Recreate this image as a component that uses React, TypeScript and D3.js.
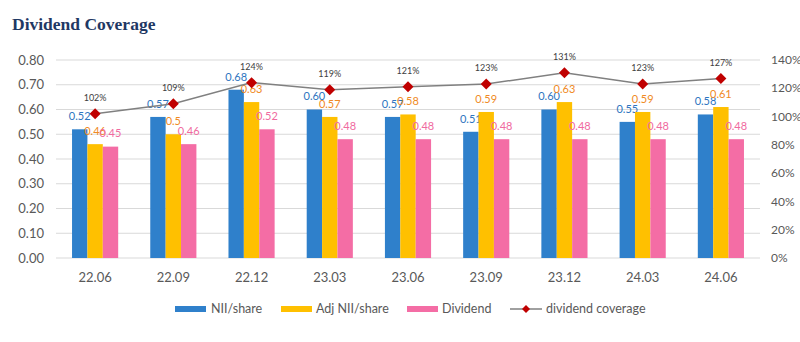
import React from "react";
import * as d3 from "d3";

const categories = ["22.06", "22.09", "22.12", "23.03", "23.06", "23.09", "23.12", "24.03", "24.06"];
const niiShare = [0.52, 0.57, 0.68, 0.6, 0.57, 0.51, 0.6, 0.55, 0.58];
const adjNiiShare = [0.46, 0.5, 0.63, 0.57, 0.58, 0.59, 0.63, 0.59, 0.61];
const dividend = [0.45, 0.46, 0.52, 0.48, 0.48, 0.48, 0.48, 0.48, 0.48];
const coverage = [102, 109, 124, 119, 121, 123, 131, 123, 127];
const niiLabels = ["0.52", "0.57", "0.68", "0.60", "0.57", "0.51", "0.60", "0.55", "0.58"];
const adjLabels = ["0.46", "0.5", "0.63", "0.57", "0.58", "0.59", "0.63", "0.59", "0.61"];
const divLabels = ["0.45", "0.46", "0.52", "0.48", "0.48", "0.48", "0.48", "0.48", "0.48"];
const leftTicks = [0, 0.1, 0.2, 0.3, 0.4, 0.5, 0.6, 0.7, 0.8];
const rightTicks = [0, 20, 40, 60, 80, 100, 120, 140];

const W = 800, H = 342;
const L = 56, R = 760, T = 60, B = 258;
const FONT = "Lato, 'Noto Sans', sans-serif";

const seriesDefs = [
  { name: "NII/share", values: niiShare, labels: niiLabels, color: "#2F80CB", labelColor: "#2E75C0" },
  { name: "Adj NII/share", values: adjNiiShare, labels: adjLabels, color: "#FFC000", labelColor: "#F08A24" },
  { name: "Dividend", values: dividend, labels: divLabels, color: "#F46DA5", labelColor: "#F06AA0" },
];

export default function App() {
  const x = d3.scaleBand<string>().domain(categories).range([L, R]).paddingInner(0.41).paddingOuter(0.205);
  const xs = d3.scaleBand<number>().domain([0, 1, 2]).range([0, x.bandwidth()]);
  const y = d3.scaleLinear().domain([0, 0.8]).range([B, T]);
  const y2 = d3.scaleLinear().domain([0, 140]).range([B, T]);
  const cx = (c: string) => (x(c) as number) + x.bandwidth() / 2;
  const line = d3.line<number>().x((_, i) => cx(categories[i])).y((v) => y2(v));

  const legendItems = [
    { x: 175, tx: 211, kind: "bar", color: seriesDefs[0].color, name: seriesDefs[0].name },
    { x: 281, tx: 316, kind: "bar", color: seriesDefs[1].color, name: seriesDefs[1].name },
    { x: 407, tx: 442, kind: "bar", color: seriesDefs[2].color, name: seriesDefs[2].name },
    { x: 510, tx: 546, kind: "line", color: "#C00000", name: "dividend coverage" },
  ];

  return (
    <svg width={W} height={H} style={{ position: "absolute", left: 0, top: 0, background: "#fff" }}>
      <text x={12} y={30} fontFamily="'Liberation Serif', 'DejaVu Serif', serif" fontWeight="bold" fontSize={17.5} fill="#1F3864">
        Dividend Coverage
      </text>
      {leftTicks.map((t) => (
        <g key={"g" + t}>
          <line x1={L} x2={R} y1={y(t)} y2={y(t)} stroke="#D9D9D9" strokeWidth={1} />
          <text x={44} y={y(t)} dy="0.35em" textAnchor="end" fontFamily={FONT} fontSize={13} fill="#595959">
            {t.toFixed(2)}
          </text>
        </g>
      ))}
      {rightTicks.map((t) => (
        <text key={"r" + t} x={771} y={y2(t)} dy="0.35em" fontFamily={FONT} fontSize={12} fill="#595959">
          {t + "%"}
        </text>
      ))}
      {categories.map((c) => (
        <text key={"c" + c} x={cx(c)} y={277} dy="0.35em" textAnchor="middle" fontFamily={FONT} fontSize={13} fill="#595959">
          {c}
        </text>
      ))}
      {seriesDefs.map((s, si) =>
        s.values.map((v, i) => {
          const bx = (x(categories[i]) as number) + (xs(si) as number);
          return (
            <g key={s.name + i}>
              <rect x={bx} y={y(v)} width={xs.bandwidth()} height={B - y(v)} fill={s.color} />
              <text x={bx + xs.bandwidth() / 2} y={y(v) - 13} dy="0.35em" textAnchor="middle" fontFamily={FONT} fontSize={11} fill={s.labelColor}>
                {s.labels[i]}
              </text>
            </g>
          );
        })
      )}
      <path d={line(coverage) || ""} fill="none" stroke="#808080" strokeWidth={1.5} />
      {coverage.map((v, i) => {
        const px = cx(categories[i]);
        const py = y2(v);
        return (
          <g key={"m" + i}>
            <path d={`M${px},${py - 5.5}L${px + 5.5},${py}L${px},${py + 5.5}L${px - 5.5},${py}Z`} fill="#C00000" />
            <text x={px} y={py - 16} dy="0.35em" textAnchor="middle" fontFamily={FONT} fontSize={9} fill="#404040">
              {v + "%"}
            </text>
          </g>
        );
      })}
      {legendItems.map((it) => (
        <g key={"l" + it.name}>
          {it.kind === "bar" ? (
            <rect x={it.x} y={306} width={31} height={6} fill={it.color} />
          ) : (
            <g>
              <line x1={it.x} x2={it.x + 32} y1={309} y2={309} stroke="#808080" strokeWidth={1.5} />
              <path d={`M${it.x + 16},${305}L${it.x + 20},${309}L${it.x + 16},${313}L${it.x + 12},${309}Z`} fill="#C00000" />
            </g>
          )}
          <text x={it.tx} y={309} dy="0.35em" fontFamily={FONT} fontSize={12.5} fill="#595959">
            {it.name}
          </text>
        </g>
      ))}
    </svg>
  );
}
